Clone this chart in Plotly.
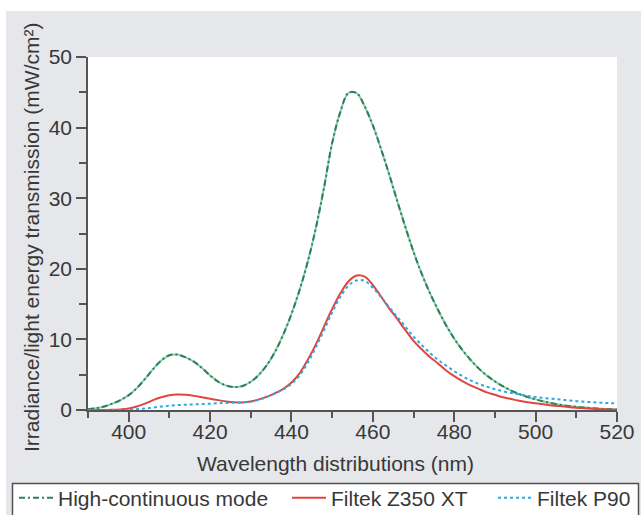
import plotly.graph_objects as go

wavelength = [390, 392, 394, 396, 398, 400, 402, 404, 406, 408,
              410, 412, 414, 416, 418, 420, 422, 424, 426, 428,
              430, 432, 434, 436, 438, 440, 442, 444, 446, 448,
              450, 452, 454, 456, 458, 460, 462, 464, 466, 468,
              470, 472, 474, 476, 478, 480, 482, 484, 486, 488,
              490, 492, 494, 496, 498, 500, 502, 504, 506, 508,
              510, 512, 514, 516, 518, 520]

high_continuous = [0.1, 0.25, 0.5, 0.9, 1.4, 2.1, 3.1, 4.4, 5.8, 7.0,
                   7.75, 7.85, 7.45, 6.85, 5.95, 4.9, 4.0, 3.45, 3.25, 3.4,
                   4.0, 5.0, 6.4, 8.3, 10.7, 13.6, 17.0, 21.0, 25.8, 31.5,
                   37.8, 42.2, 44.9, 44.9, 43.0, 40.3, 37.0, 33.4, 29.6, 25.9,
                   22.4, 19.3, 16.6, 14.2, 12.0, 10.1, 8.5, 7.1, 5.9, 4.9,
                   4.05, 3.35, 2.75, 2.25, 1.85, 1.5, 1.2, 0.95, 0.75, 0.58,
                   0.45, 0.34, 0.25, 0.18, 0.12, 0.08]

filtek_z350 = [0, 0, 0, 0.02, 0.08, 0.2, 0.5, 0.9, 1.4, 1.8,
               2.1, 2.2, 2.15, 2.0, 1.8, 1.6, 1.4, 1.2, 1.1, 1.08,
               1.2, 1.5, 1.9, 2.4, 3.0, 3.9, 5.2, 7.1, 9.3, 11.8,
               14.3, 16.5, 18.2, 19.05, 18.9, 17.7, 16.1, 14.4, 12.9, 11.3,
               9.8, 8.6, 7.5, 6.6, 5.6, 4.8, 4.1, 3.5, 3.0, 2.5,
               2.15, 1.8, 1.55, 1.3, 1.1, 0.95, 0.8, 0.65, 0.55, 0.42,
               0.32, 0.25, 0.18, 0.12, 0.08, 0.05]

filtek_p90 = [0, 0, 0, 0, 0, 0.02, 0.1, 0.22, 0.35, 0.48,
              0.6, 0.7, 0.75, 0.8, 0.85, 0.9, 0.95, 1.0, 1.05, 1.1,
              1.2, 1.45, 1.85, 2.35, 2.9, 3.7, 4.9, 6.7, 8.9, 11.3,
              13.8, 16.0, 17.6, 18.35, 18.3, 17.3, 16.0, 14.6, 13.2, 11.8,
              10.4, 9.2, 8.1, 7.1, 6.3, 5.5, 4.8, 4.2, 3.7, 3.3,
              2.95, 2.65, 2.4, 2.2, 2.0, 1.85, 1.7, 1.6, 1.5, 1.35,
              1.25, 1.17, 1.1, 1.03, 0.98, 0.95]

series_names = ["High-continuous mode", "Filtek Z350 XT", "Filtek P90"]
x_ticks = [400, 420, 440, 460, 480, 500, 520]
y_ticks = [0, 10, 20, 30, 40, 50]

FONT = "Liberation Sans, Arial, sans-serif"
TXT = "#383838"
AX = "#555555"
BG = "#e5e7ea"

# plot area in pixels
L, R, T, B = 88, 617, 57, 410
W, H = 641, 515
pw, ph = R - L, B - T


def px_x(px):
    return (px - L) / pw


def px_y(py):
    return (B - py) / ph


fig = go.Figure()

# light base under the green dashes
fig.add_trace(go.Scatter(x=wavelength, y=high_continuous, mode="lines",
                         line=dict(color="#86cfaa", width=2, shape="spline"),
                         showlegend=False, hoverinfo="skip"))
fig.add_trace(go.Scatter(x=wavelength, y=high_continuous, mode="lines",
                         name=series_names[0],
                         line=dict(color="#2f7f5b", width=2, dash="6px,3px,2px,3px", shape="spline"),
                         legend="legend"))
fig.add_trace(go.Scatter(x=wavelength, y=filtek_z350, mode="lines",
                         name=series_names[1],
                         line=dict(color="#e2453e", width=2, shape="spline"),
                         legend="legend2"))
fig.add_trace(go.Scatter(x=wavelength, y=filtek_p90, mode="lines",
                         name=series_names[2],
                         line=dict(color="#2aa9e2", width=2, dash="dot", shape="spline"),
                         legend="legend3"))

leg_common = dict(orientation="h", yanchor="middle", xanchor="left",
                  bgcolor="rgba(0,0,0,0)", borderwidth=0, itemwidth=34,
                  font=dict(family=FONT, size=21, color=TXT))
leg_y = px_y(498)

fig.update_layout(
    width=W, height=H,
    margin=dict(l=L, r=W - R, t=T, b=H - B, autoexpand=False),
    paper_bgcolor=BG,
    plot_bgcolor="white",
    font=dict(family=FONT, size=21, color=TXT),
    xaxis=dict(range=[390, 520], tickvals=x_ticks, ticktext=[str(v) for v in x_ticks],
               showline=True, linecolor=AX, linewidth=1.5, ticks="outside",
               ticklen=10, tickwidth=1.5, tickcolor=AX, showgrid=False, zeroline=False,
               ticklabelstandoff=-8,
               minor=dict(dtick=10, tick0=390, ticks="outside", ticklen=6, tickwidth=1.5,
                          tickcolor=AX, showgrid=False),
               tickfont=dict(family=FONT, size=21, color=TXT)),
    yaxis=dict(range=[0, 50], tickvals=y_ticks, ticktext=[str(v) for v in y_ticks],
               showline=True, linecolor=AX, linewidth=1.5, ticks="outside",
               ticklen=10, tickwidth=1.5, tickcolor=AX, showgrid=False, zeroline=False,
               minor=dict(dtick=5, tick0=0, ticks="outside", ticklen=7, tickwidth=1.5,
                          tickcolor=AX, showgrid=False),
               tickfont=dict(family=FONT, size=21, color=TXT)),
    legend=dict(x=px_x(14), y=leg_y, **leg_common),
    legend2=dict(x=px_x(287), y=leg_y, **leg_common),
    legend3=dict(x=px_x(493), y=leg_y, **leg_common),
    shapes=[
        # white strip on top and left
        dict(type="rect", xref="paper", yref="paper", x0=px_x(0), x1=px_x(W),
             y0=px_y(11), y1=px_y(0), fillcolor="white", line=dict(width=0), layer="above"),
        dict(type="rect", xref="paper", yref="paper", x0=px_x(0), x1=px_x(6),
             y0=px_y(H), y1=px_y(0), fillcolor="white", line=dict(width=0), layer="above"),
        # legend box
        dict(type="rect", xref="paper", yref="paper", x0=px_x(12.5), x1=px_x(638.5),
             y0=px_y(525), y1=px_y(483.5), fillcolor="white",
             line=dict(color="#505050", width=1.5), layer="above"),
    ],
    annotations=[
        dict(text="Wavelength distributions (nm)", xref="paper", yref="paper",
             x=px_x(335), y=px_y(463), xanchor="center", yanchor="middle",
             showarrow=False, font=dict(family=FONT, size=21, color=TXT)),
        dict(text="Irradiance/light energy transmission (mW/cm²)", xref="paper", yref="paper",
             x=px_x(31), y=px_y(238), xanchor="center", yanchor="middle", textangle=-90,
             showarrow=False, font=dict(family=FONT, size=21, color=TXT)),
    ],
)

fig.write_html("out.html",
               config={"displayModeBar": False},
               post_script="document.body.style.margin='0';document.body.style.overflow='hidden';")
